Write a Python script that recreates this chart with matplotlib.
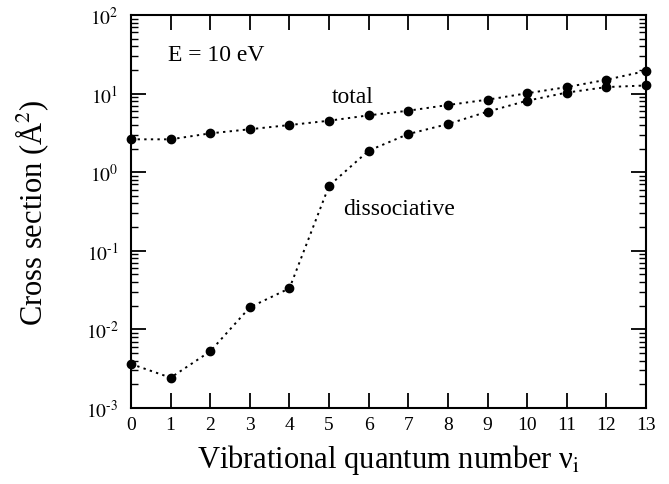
import matplotlib
matplotlib.use("Agg")
import matplotlib.pyplot as plt
from matplotlib.ticker import LogLocator, NullFormatter

plt.rcParams['font.family'] = ['Liberation Serif', 'DejaVu Serif']
plt.rcParams['mathtext.fontset'] = 'stix'

v = [0, 1, 2, 3, 4, 5, 6, 7, 8, 9, 10, 11, 12, 13]
total = [2.62, 2.62, 3.12, 3.52, 3.98, 4.52, 5.29, 6.06, 7.16, 8.37, 10.1, 12.1, 15.0, 19.4]
dissociative = [0.00363, 0.00243, 0.00526, 0.0191, 0.0333, 0.673, 1.88, 3.06, 4.10, 5.89, 8.12, 10.3, 12.1, 12.7]
xticks = list(range(0, 14))
yticks = [1e-3, 1e-2, 1e-1, 1e0, 1e1, 1e2]
ytick_labels = [r'$10^{\text{-}3}$', r'$10^{\text{-}2}$', r'$10^{\text{-}1}$',
                r'$10^{0}$', r'$10^{1}$', r'$10^{2}$']

fig = plt.figure(figsize=(6.69, 4.85), dpi=100)
ax = fig.add_axes([131/669, 76/485, 515/669, 393/485])

for y in (total, dissociative):
    ax.plot(v, y, linestyle=(0, (1.2, 2.2)), color='black', lw=1.4,
            marker='o', markersize=6, markerfacecolor='black', markeredgecolor='black',
            clip_on=False)

ax.set_yscale('log')
ax.set_xlim(0, 13)
ax.set_ylim(1e-3, 1e2)
ax.set_xticks(xticks)
ax.set_xticklabels([str(t) for t in xticks], fontsize=14)
ax.set_yticks(yticks)
ax.set_yticklabels(ytick_labels, fontsize=14)
ax.yaxis.set_minor_locator(LogLocator(base=10, subs=range(2, 10), numticks=20))
ax.yaxis.set_minor_formatter(NullFormatter())

ax.tick_params(which='major', direction='in', length=11, width=1.3, top=True, right=True)
ax.tick_params(axis='y', which='major', pad=9)
ax.tick_params(axis='x', which='major', pad=6)
ax.tick_params(which='minor', direction='in', length=5, width=1.0, top=False, right=True)
ax.tick_params(axis='x', which='minor', bottom=False, top=False)
for s in ax.spines.values():
    s.set_linewidth(1.5)

ax.set_xlabel('Vibrational quantum number ν$_{\\mathrm{i}}$', fontsize=22, labelpad=6)
ax.set_ylabel('Cross section (Å$^{2}$)', fontsize=22)
ax.yaxis.set_label_coords(-0.155, 0.5)

ax.text(0.93, 31.9, 'E = 10 eV', fontsize=17, va='center', ha='left')
ax.text(5.08, 9.3, 'total', fontsize=17, va='center', ha='left')
ax.text(5.35, 0.35, 'dissociative', fontsize=17, va='center', ha='left')

fig.savefig('out.png', dpi=100)
